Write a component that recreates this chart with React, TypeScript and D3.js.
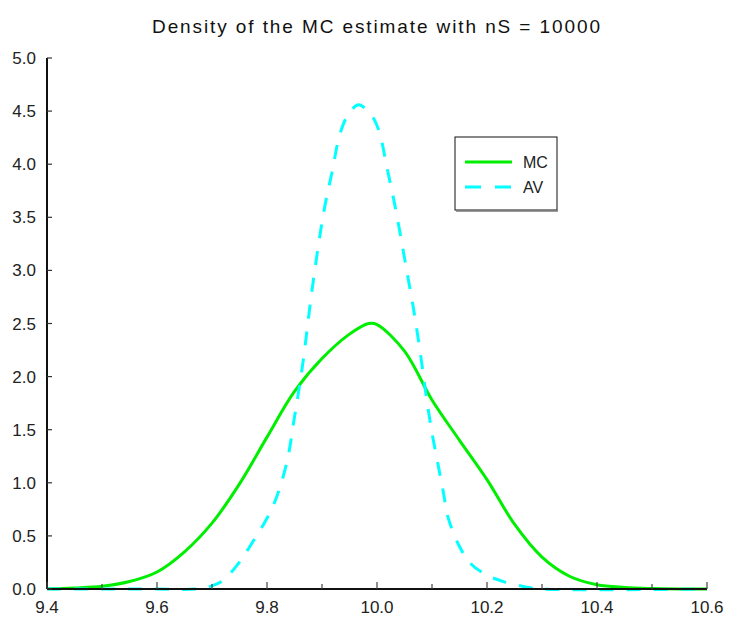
import React from "react";
import * as d3 from "d3";

const mcX = [9.4, 9.45, 9.5, 9.55, 9.6, 9.65, 9.7, 9.75, 9.8, 9.85, 9.9, 9.95, 9.985, 10.0, 10.05, 10.1, 10.15, 10.2, 10.25, 10.3, 10.35, 10.4, 10.45, 10.5, 10.55, 10.6];
const mcY = [0.002, 0.01, 0.025, 0.07, 0.16, 0.35, 0.62, 0.99, 1.43, 1.86, 2.17, 2.4, 2.5, 2.49, 2.24, 1.78, 1.4, 1.03, 0.61, 0.3, 0.12, 0.04, 0.015, 0.005, 0.001, 0];

const avX = [9.4, 9.6, 9.67, 9.7, 9.72, 9.745, 9.77, 9.81, 9.835, 9.85, 9.865, 9.88, 9.893, 9.905, 9.918, 9.933, 9.948, 9.966, 9.98, 9.993, 10.005, 10.018, 10.03, 10.042, 10.054, 10.066, 10.078, 10.09, 10.1, 10.11, 10.12, 10.13, 10.15, 10.17, 10.2, 10.23, 10.27, 10.3, 10.6];
const avY = [0, 0, 0, 0.03, 0.08, 0.22, 0.41, 0.77, 1.17, 1.62, 2.12, 2.74, 3.22, 3.6, 3.92, 4.29, 4.47, 4.56, 4.52, 4.44, 4.29, 3.97, 3.68, 3.35, 3.0, 2.65, 2.25, 1.8, 1.47, 1.2, 0.93, 0.66, 0.4, 0.24, 0.13, 0.07, 0.02, 0, 0];

const xTickValues = [9.4, 9.6, 9.8, 10.0, 10.2, 10.4, 10.6];
const xMinorTicks = [9.5, 9.7, 9.9, 10.1, 10.3, 10.5];
const yTickValues = [0, 0.5, 1, 1.5, 2, 2.5, 3, 3.5, 4, 4.5, 5];
const seriesNames = ["MC", "AV"];
const titleText = "Density of the MC estimate with nS = 10000";

const W = 730, H = 618;
const left = 47, right = 707, top = 58, bottom = 589;

export default function App() {
  const x = d3.scaleLinear().domain([9.4, 10.6]).range([left, right]);
  const y = d3.scaleLinear().domain([0, 5]).range([bottom, top]);
  const line = d3.line<[number, number]>().x(d => x(d[0])).y(d => Math.min(bottom, y(d[1]))).curve(d3.curveCatmullRom.alpha(0.5));
  const mcPts = mcX.map((v, i) => [v, mcY[i]] as [number, number]);
  const avPts = avX.map((v, i) => [v, avY[i]] as [number, number]);
  const font = "'Liberation Sans', Arial, sans-serif";
  return (
    <svg width={W} height={H} style={{ position: "absolute", left: 0, top: 0, background: "#fff" }}>
      <rect x={0} y={0} width={W} height={H} fill="#fff" />
      <text x={376} y={33} textAnchor="middle" fontFamily={font} fontSize={19} fill="#111" textLength={448} lengthAdjust="spacing">{titleText}</text>
      {/* curves */}
      <path d={line(mcPts) || ""} fill="none" stroke="#00ee00" strokeWidth={3} />
      <path d={line(avPts) || ""} fill="none" stroke="#00ffff" strokeWidth={3} strokeDasharray="14,13" />
      {/* axes */}
      <line x1={left} x2={left} y1={top} y2={bottom} stroke="#111" strokeWidth={2} />
      <line x1={left} x2={right} y1={bottom} y2={bottom} stroke="#111" strokeWidth={2} />
      {yTickValues.map(v => (
        <g key={"y" + v}>
          <line x1={left} x2={left + 5} y1={y(v)} y2={y(v)} stroke="#333" strokeWidth={1.2} />
          <text x={36} y={y(v) + 6} textAnchor="end" fontFamily={font} fontSize={17} fill="#222">{v.toFixed(1)}</text>
        </g>
      ))}
      {xTickValues.map(v => (
        <g key={"x" + v}>
          <line x1={x(v)} x2={x(v)} y1={bottom} y2={bottom - 7} stroke="#444" strokeWidth={1.2} />
          <text x={x(v)} y={613} textAnchor="middle" fontFamily={font} fontSize={17} fill="#222">{v.toFixed(1)}</text>
        </g>
      ))}
      {xMinorTicks.map(v => (
        <line key={"xm" + v} x1={x(v)} x2={x(v)} y1={bottom} y2={bottom - 5} stroke="#444" strokeWidth={1.2} />
      ))}
      {/* legend */}
      <rect x={455} y={137} width={102} height={73} fill="#fff" stroke="#111" strokeWidth={1} />
      <line x1={456} x2={558} y1={211} y2={211} stroke="#777" strokeWidth={1.5} />
      <line x1={465} x2={512} y1={162} y2={162} stroke="#00ee00" strokeWidth={3} />
      <line x1={465} x2={512} y1={187} y2={187} stroke="#00ffff" strokeWidth={3} strokeDasharray="16,14" />
      <text x={523} y={168} fontFamily={font} fontSize={16} fill="#222">{seriesNames[0]}</text>
      <text x={523} y={193} fontFamily={font} fontSize={16} fill="#222">{seriesNames[1]}</text>
    </svg>
  );
}
